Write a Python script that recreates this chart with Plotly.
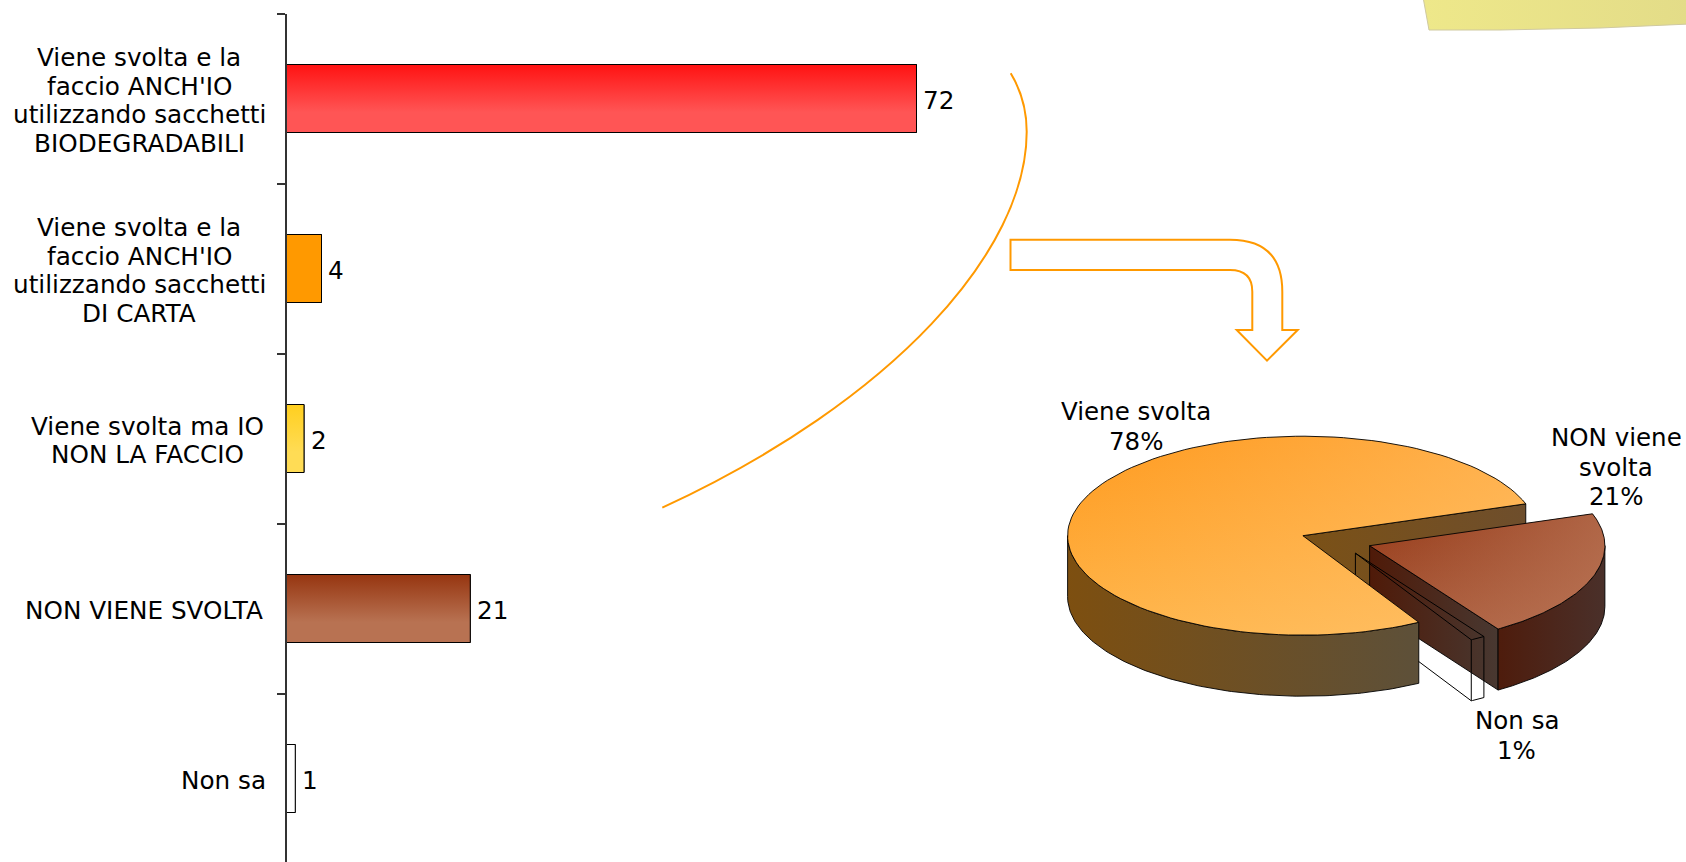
import numpy as np
import plotly.graph_objects as go

# Bar chart data
bar_labels = [
    ["Viene svolta e la", "faccio ANCH'IO", "utilizzando sacchetti", "BIODEGRADABILI"],
    ["Viene svolta e la", "faccio ANCH'IO", "utilizzando sacchetti", "DI CARTA"],
    ["Viene svolta ma IO", "NON LA FACCIO"],
    ["NON VIENE SVOLTA"],
    ["Non sa"],
]
bar_label_centers = [139, 139, 147, 144, 223.5]
bar_values = [72, 4, 2, 21, 1]
bar_top_colors = ["#ff1212", "#ff9900", "#ffcf1f", "#963510", "#ffffff"]
bar_bottom_colors = ["#ff5555", "#ff9900", "#ffdc55", "#b87252", "#ffffff"]

# Pie chart data
pie_labels = [["Viene svolta", "78%"], ["Non sa", "1%"], ["NON viene", "svolta", "21%"]]
pie_values = [78, 1, 21]

FONT = "DejaVu Sans, Verdana, sans-serif"
BAR_FONT = 24.7
PIE_FONT = 24.5
BAR_LINE_STEP = 28.9
PIE_LINE_STEP = 29.7
W, H = 1686, 862
AXIS_X = 286.5
ORANGE = "#ff9900"
BAR_WIDTH = 0.4

fig = go.Figure()


def polygon(xs, ys, axes, scale, orientation="horizontal", line=0.9, line_color="#000000"):
    """Closed region filled with a gradient given as a colorscale."""
    fig.add_trace(go.Scatter(
        x=list(xs), y=list(ys), xaxis=axes[0], yaxis=axes[1],
        mode="lines", fill="toself",
        fillgradient=dict(type=orientation, colorscale=scale),
        line=dict(color=line_color if line else "rgba(0,0,0,0)", width=line),
        hoverinfo="skip", showlegend=False,
    ))


def two_stop(c0, c1):
    return [[0, c0], [1, c1]]


# Bars: native trace for geometry, gradient rectangle on top of it
fig.add_trace(go.Bar(
    x=bar_values, y=list(range(len(bar_values))), orientation="h", width=BAR_WIDTH,
    marker=dict(color=bar_bottom_colors, line=dict(color="#000000", width=1)),
    hoverinfo="skip", showlegend=False,
))
for i, v in enumerate(bar_values):
    # On the reversed axis the colorscale runs from the lower edge upward
    scale = [[0, bar_bottom_colors[i]], [0.3, bar_bottom_colors[i]], [1, bar_top_colors[i]]]
    polygon([0, v, v, 0, 0],
            [i - BAR_WIDTH / 2, i - BAR_WIDTH / 2, i + BAR_WIDTH / 2, i + BAR_WIDTH / 2, i - BAR_WIDTH / 2],
            ("x", "y"), scale, "vertical", 1.0)

OV = ("x2", "y2")

# Corner of the yellow note at the top right
polygon([1423, 1429, 1500, 1600, 1690, 1690, 1423], [-3, 30, 30, 28, 24, -3, -3], OV,
        two_stop("#eee88a", "#e3dc88"), "horizontal", 1, "#cfc9a0")

# Projection of the exploded 3D pie (page pixels on the overlay axes)
CX, CY = 1302.9, 535.7
RX, RY = 235.3, 99.5
DEPTH = 61.0
START_ANGLE = 18.7
total = sum(pie_values)
edges = START_ANGLE + np.cumsum([0] + pie_values) / total * 360
main_a0, main_a1 = edges[0], edges[1]
nosa_a0, nosa_a1 = edges[1], edges[2]
non_a0, non_a1 = edges[2], edges[3]
NOSA_OFFSET = (52.5, 17.5)
NON_OFFSET = (66.7, 10.0)


def rim(cx, cy, a0, a1, n=120):
    t = np.radians(np.linspace(a0, a1, n))
    return cx + RX * np.cos(t), cy - RY * np.sin(t)


def radial_wall(cx, cy, a):
    x = cx + RX * np.cos(np.radians(a))
    y = cy - RY * np.sin(np.radians(a))
    return [cx, x, x, cx, cx], [cy, y, y + DEPTH, cy + DEPTH, cy]


def rim_wall(cx, cy, a0, a1):
    x, y = rim(cx, cy, a0, a1)
    return (np.concatenate([x, x[::-1], x[:1]]),
            np.concatenate([y, y[::-1] + DEPTH, y[:1]]))


def top_face(cx, cy, a0, a1):
    x, y = rim(cx, cy, a0, a1)
    return (np.concatenate([[cx], x, [cx]]), np.concatenate([[cy], y, [cy]]))


def diagonal_top(xs, ys, upper, lower, h0, h1):
    """Vertical gradient plus a translucent horizontal one reads as a diagonal."""
    polygon(xs, ys, OV, two_stop(lower, upper), "vertical", 0)
    polygon(xs, ys, OV, two_stop(h0, h1), "horizontal", 0.9)


# Cut face of the large slice, seen behind the removed wedges
xs, ys = radial_wall(CX, CY, main_a0)
polygon(xs, ys, OV, two_stop("#7b5116", "#6e4e2c"))

# Detached "NON viene svolta" slice
nx, ny = CX + NON_OFFSET[0], CY + NON_OFFSET[1]
xs, ys = radial_wall(nx, ny, non_a0)
polygon(xs, ys, OV, two_stop("#4f1a08", "#483831"))
xs, ys = rim_wall(nx, ny, non_a0, 360)
polygon(xs, ys, OV, two_stop("#4e1c0c", "#4a302a"))
xs, ys = top_face(nx, ny, non_a0, non_a1)
diagonal_top(xs, ys, "#963a18", "#ac5e3e", "rgba(190,125,95,0)", "rgba(190,125,95,0.65)")

# "Non sa" slice: outline only, the darker faces show through it
sx, sy = CX + NOSA_OFFSET[0], CY + NOSA_OFFSET[1]
ax, ay = rim(sx, sy, nosa_a0, nosa_a1, 12)
outline_x = np.concatenate([[sx], ax, [sx], [None], [sx, sx], [None], [ax[0], ax[0]], [None],
                            [ax[-1], ax[-1]], [None], [sx], ax])
outline_y = np.concatenate([[sy], ay, [sy], [None], [sy, sy + DEPTH], [None], [ay[0], ay[0] + DEPTH], [None],
                            [ay[-1], ay[-1] + DEPTH], [None], [sy + DEPTH], ay + DEPTH])
fig.add_trace(go.Scatter(x=outline_x, y=outline_y, xaxis="x2", yaxis="y2", mode="lines",
                         line=dict(color="#000000", width=1), hoverinfo="skip", showlegend=False))

# Large "Viene svolta" slice, in front of everything else
xs, ys = rim_wall(CX, CY, 180, main_a1)
polygon(xs, ys, OV, two_stop("#7d4f10", "#5d5039"))
xs, ys = top_face(CX, CY, main_a0, main_a1)
diagonal_top(xs, ys, "#ff9a1e", "#ffb64c", "rgba(255,200,125,0)", "rgba(255,200,125,0.5)")

# Value labels beside each bar
annotations = [
    dict(x=v, y=i, xref="x", yref="y", text=str(v), showarrow=False,
         xanchor="left", xshift=4.5, yshift=-1.5, font=dict(family=FONT, size=BAR_FONT, color="#000000"))
    for i, v in enumerate(bar_values)
]
# Category labels left of the axis, one annotation per text line for exact leading
for i, (lines, center) in enumerate(zip(bar_labels, bar_label_centers)):
    for k, line in enumerate(lines):
        annotations.append(dict(
            x=center, y=i, xref="x2", yref="y", text=line, showarrow=False,
            yshift=-2 - (k - (len(lines) - 1) / 2) * BAR_LINE_STEP,
            font=dict(family=FONT, size=BAR_FONT, color="#000000")))
# Pie labels
pie_label_centers = [(1135.5, 426.7), (1516.8, 735.3), (1616, 467)]
for lines, (px, py) in zip(pie_labels, pie_label_centers):
    for k, line in enumerate(lines):
        annotations.append(dict(
            x=px, y=py + (k - (len(lines) - 1) / 2) * PIE_LINE_STEP, xref="x2", yref="y2",
            text=line, showarrow=False, font=dict(family=FONT, size=PIE_FONT, color="#000000")))

shapes = [
    # Sweeping curve linking the bar chart to the pie
    dict(type="path", xref="x2", yref="y2",
         path=("M 1010.7 73.3 C 1022 92 1026.7 112 1026.7 131.7 "
               "C 1026.7 250 895 400 662.3 507.7"),
         line=dict(color=ORANGE, width=2)),
    # Bent outline arrow
    dict(type="path", xref="x2", yref="y2",
         path=("M 1010.5 239.7 L 1230 239.7 Q 1282.3 239.7 1282.3 291.7 L 1282.3 330 L 1297.7 330 "
               "L 1267 360.7 L 1236.7 330 L 1252.3 330 L 1252.3 291.7 Q 1252.3 270 1230 270 L 1010.5 270 Z"),
         line=dict(color=ORANGE, width=2)),
]

fig.update_layout(
    width=W, height=H, margin=dict(l=0, r=0, t=0, b=0), autosize=False,
    paper_bgcolor="#ffffff", plot_bgcolor="rgba(0,0,0,0)",
    xaxis=dict(domain=[AXIS_X / W, 1], range=[0, (W - AXIS_X) / 8.75], visible=False, fixedrange=True),
    yaxis=dict(domain=[0, 1 - 13.5 / H], range=[-0.5 + (H - 13.5) / 170, -0.5], anchor="x",
               tickmode="array", tickvals=[-0.5, 0.5, 1.5, 2.5, 3.5], showticklabels=False,
               ticks="outside", ticklen=8, tickwidth=1.5, tickcolor="#333333",
               showline=True, linecolor="#333333", linewidth=1.5, showgrid=False, zeroline=False,
               fixedrange=True),
    xaxis2=dict(domain=[0, 1], range=[0, W], visible=False, anchor="y2", fixedrange=True),
    yaxis2=dict(domain=[0, 1], range=[H, 0], visible=False, anchor="x2", fixedrange=True),
    annotations=annotations, shapes=shapes, showlegend=False, barmode="overlay",
)

fig.write_html("out.html", config=dict(displayModeBar=False))
